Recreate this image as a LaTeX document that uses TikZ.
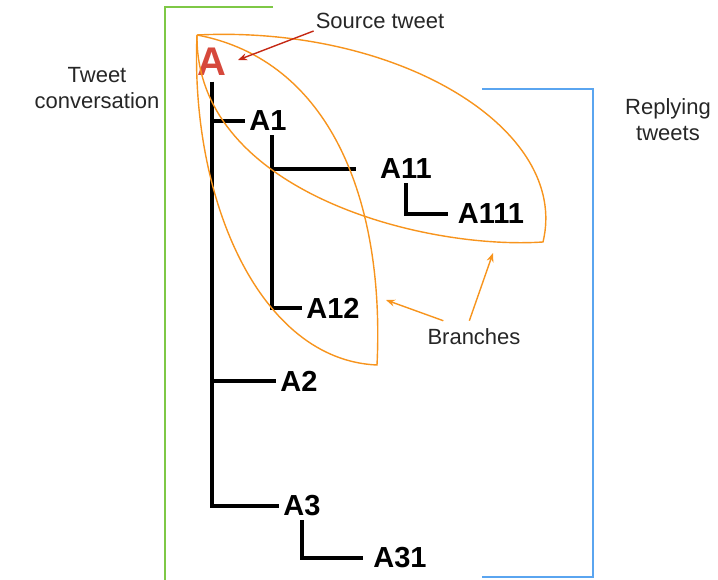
\documentclass[tikz,border=0pt]{standalone}
\usepackage{fontspec}
\usetikzlibrary{arrows.meta}
\setmainfont{Liberation Sans}
\definecolor{branchorange}{RGB}{247,148,29}
\definecolor{convgreen}{RGB}{126,200,70}
\definecolor{replyblue}{RGB}{90,165,240}
\definecolor{sourcered}{RGB}{214,72,60}
\definecolor{arrowred}{RGB}{196,40,20}
\tikzset{
    tree/.style={line width=3.4pt},
    tweet/.style={font=\bfseries\fontsize{29}{31}\selectfont,inner sep=4pt},
    note/.style={font=\fontsize{22}{26}\selectfont,text=black!85,align=center,inner sep=2pt},
    branch/.style={draw=branchorange,line width=1.4pt},
    pointer/.style={line width=1.4pt,->,>={Stealth[length=9pt,width=7pt]}},
}
\begin{document}
\begin{tikzpicture}[x=1pt,y=-1pt]
    \useasboundingbox (0,0) rectangle (718,579);

    % brackets
    \draw[convgreen,line width=2pt] (273,7) -- (165,7) -- (165,580);
    \draw[replyblue,line width=2pt] (482,89) -- (593,89) -- (593,577) -- (482,577);

    % side labels
    \node[note] (conv) at (97,88) {Tweet\\conversation};
    \node[note] (reply) at (668,120) {Replying\\tweets};

    % tweets
    \node[tweet,font=\bfseries\fontsize{40}{42}\selectfont,text=sourcered,inner sep=6pt] (A) at (212,62) {A};
    \node[tweet] (A1) at (268,121) {A1};
    \node[tweet] (A11) at (406,169) {A11};
    \node[tweet] (A111) at (491,214) {A111};
    \node[tweet] (A12) at (333,308) {A12};
    \node[tweet] (A2) at (299,381) {A2};
    \node[tweet] (A3) at (302,506) {A3};
    \node[tweet] (A31) at (400,558) {A31};

    \draw[tree] (A.south) |- (A1.west);
    \draw[tree] (A.south) |- (A2.west);
    \draw[tree] (A.south) |- (A3.west);
    \draw[tree,shorten >=20pt] ([xshift=4pt]A1.south) |- (A11.west);
    \draw[tree] ([xshift=4pt]A1.south) |- (A12.west);
    \draw[tree,shorten >=6pt] (A11.south) |- (A111.west);
    \draw[tree,shorten >=6pt] (A3.south) |- (A31.west);

    % branches
    \draw[branch] (197,35) .. controls (400,25) and (570,130) .. (543,242)
        .. controls (420,250) and (195,190) .. (197,35);
    \draw[branch] (197,35) .. controls (190,200) and (260,360) .. (377,365)
        .. controls (385,200) and (330,60) .. (197,35);

    % annotations
    \node[note] (src) at (380,21) {Source tweet};
    \coordinate (srctip) at (238,60);
    \draw[pointer,arrowred] (src.south west) -- (srctip);

    \node[note] (br) at (474,337) {Branches};
    \coordinate (brtipA) at (386,300);
    \coordinate (brtipB) at (493,253);
    \draw[pointer,branchorange] ([xshift=18pt,yshift=6pt]br.north west) -- (brtipA);
    \draw[pointer,branchorange] ([xshift=44pt,yshift=6pt]br.north west) -- (brtipB);
\end{tikzpicture}
\end{document}
